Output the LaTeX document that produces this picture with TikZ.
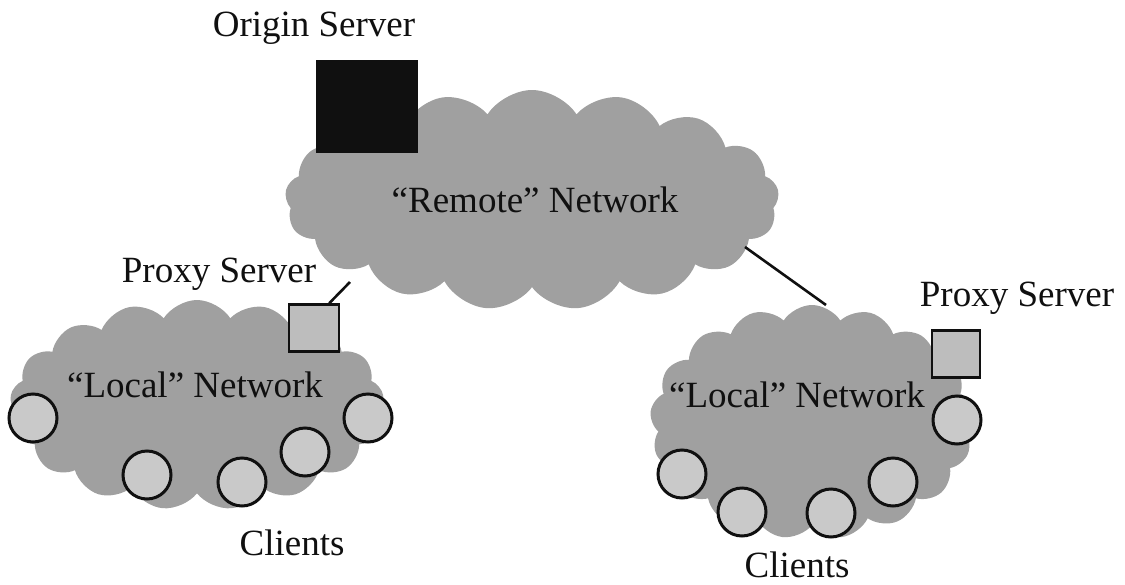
\documentclass[tikz,border=0pt]{standalone}
\usepackage{fontspec}
\setmainfont{Liberation Serif}
\usetikzlibrary{shapes.symbols,positioning}
\definecolor{grisnube}{HTML}{A0A0A0}
\definecolor{grisclaro}{HTML}{C9C9C9}
\definecolor{grisproxy}{HTML}{BDBDBD}
\definecolor{tinta}{HTML}{101010}
\tikzset{
  nube/.style={cloud,cloud puffs=17,cloud puff arc=115,fill=grisnube,draw=none,inner sep=0pt},
  cliente/.style={circle,draw=tinta,fill=grisclaro,line width=1.5pt,minimum size=24pt,inner sep=0pt},
  proxy/.style={rectangle,draw=tinta,fill=grisproxy,line width=1.2pt,minimum width=25pt,minimum height=23.5pt,inner sep=0pt},
  origen/.style={rectangle,fill=tinta,minimum width=51pt,minimum height=46.5pt,inner sep=0pt},
  enlace/.style={draw=tinta,line width=1.3pt},
  rotulo/.style={font=\fontsize{18.5}{22}\selectfont,text=tinta,inner sep=0pt},
}

\begin{document}
\begin{tikzpicture}[x=0.5pt,y=-0.5pt]
\useasboundingbox (0,0) rectangle (1125,584);
% clouds
\node[nube,minimum width=247pt,minimum height=110pt] (remota) at (532,200) {};
\node[nube,minimum width=187pt,minimum height=105pt] (localizq) at (197,405) {};
\node[nube,minimum width=162pt,minimum height=117pt] (localder) at (812,422) {};
% servers
\node[origen] (servorigen) at (367,106) {};
\node[proxy] (proxyizq) at (314,328) {};
\node[proxy,minimum width=24pt] (proxyder) at (956,354) {};
\coordinate (remizq) at (350,282);
\coordinate (remder) at (745,247);
\coordinate (topder) at (826,305);
\draw[enlace] (proxyizq.north east) ++(-11,0) -- (remizq);
\draw[enlace] (remder) -- (topder);
% clients
\node[cliente] (c1) at (33,418) {};
\node[cliente] (c2) at (147,475) {};
\node[cliente] (c3) at (242,482) {};
\node[cliente] (c4) at (305,452) {};
\node[cliente] (c5) at (368,418) {};
\node[cliente] (c6) at (957,420) {};
\node[cliente] (c7) at (682,474) {};
\node[cliente] (c8) at (742,512) {};
\node[cliente] (c9) at (831,513) {};
\node[cliente] (c10) at (893,482) {};
% labels
\node[rotulo] (torigen) at (314,28) {Origin Server};
\node[rotulo] (tremota) at (535,200) {“Remote” Network};
\node[rotulo] (tproxyizq) at (219,274) {Proxy Server};
\node[rotulo] (tlocalizq) at (195,385) {“Local” Network};
\node[rotulo] (tclizq) at (292,543) {Clients};
\node[rotulo] (tproxyder) at (1017,298) {Proxy Server};
\node[rotulo] (tlocalder) at (797,395) {“Local” Network};
\node[rotulo] (tclder) at (797,565) {Clients};
\end{tikzpicture}
\end{document}
